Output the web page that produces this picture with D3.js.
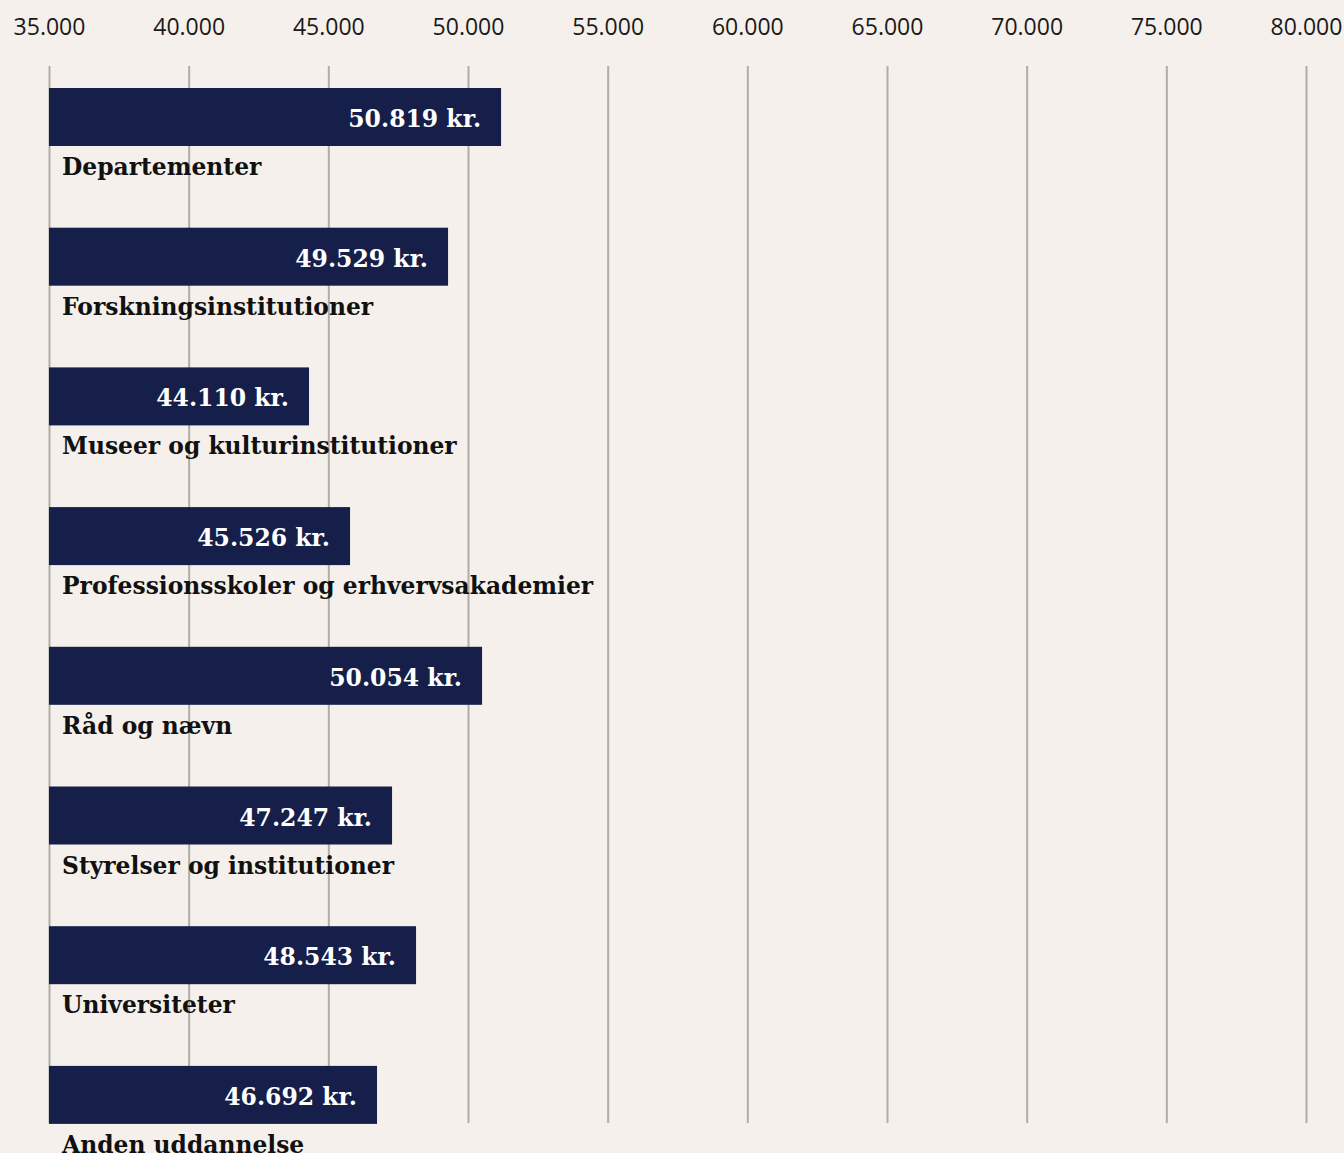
<!DOCTYPE html>
<html>
<head>
<meta charset="utf-8">
<script src="https://cdn.jsdelivr.net/npm/d3@7"></script>
<style>
  body { margin: 0; background: #f5f0eb; }
  svg { display: block; }
</style>
</head>
<body>
<div id="chart"></div>
<script>
// categories, top to bottom
const categories = [
  "Departementer",
  "Forskningsinstitutioner",
  "Museer og kulturinstitutioner",
  "Professionsskoler og erhvervsakademier",
  "Råd og nævn",
  "Styrelser og institutioner",
  "Universiteter",
  "Anden uddannelse"
];
// printed value labels (kr.)
const values = [50819, 49529, 44110, 45526, 50054, 47247, 48543, 46692];
// bar lengths as drawn in the picture (they do not follow the labels exactly)
const barValues = [51184, 49286, 44309, 45777, 50503, 47281, 48140, 46743];
const tickValues = [35000, 40000, 45000, 50000, 55000, 60000, 65000, 70000, 75000, 80000];

const width = 1344;
const height = 1153;
const gridTop = 66, gridBottom = 1123;

const da = d3.formatLocale({decimal: ",", thousands: ".", grouping: [3], currency: ["", " kr."]});
const fmt = da.format(",d");

const x = d3.scaleLinear().domain([35000, 80000]).range([49, 1306]);
const y = d3.scaleBand().domain(categories).range([88, 88 + 8 * 139.7]).paddingInner(0).paddingOuter(0);
const barH = 58;

const svg = d3.select("#chart").append("svg")
    .attr("width", width)
    .attr("height", height);

svg.append("rect").attr("width", width).attr("height", height).attr("fill", "#f5f0eb");

// axis on top, ticks drawn down as gridlines
const axis = svg.append("g")
    .attr("transform", "translate(0," + gridTop + ")")
    .call(d3.axisTop(x)
        .tickValues(tickValues)
        .tickFormat(fmt)
        .tickSizeInner(-(gridBottom - gridTop))
        .tickSizeOuter(0)
        .tickPadding(31));
axis.select(".domain").remove();
axis.selectAll(".tick line").attr("stroke", "#b0aca6").attr("stroke-width", 2);
axis.selectAll(".tick text")
    .attr("fill", "#1a1a1a")
    .style("font-family", "'Open Sans', sans-serif")
    .style("font-size", "23px");

const row = svg.selectAll("g.row")
    .data(categories)
    .enter()
    .append("g")
    .attr("class", "row")
    .attr("transform", d => "translate(0," + y(d) + ")");

row.append("rect")
    .attr("x", x(35000))
    .attr("y", 0)
    .attr("width", (d, i) => x(barValues[i]) - x(35000))
    .attr("height", barH)
    .attr("fill", "#161f4a");

row.append("text")
    .attr("x", (d, i) => x(barValues[i]) - 20)
    .attr("y", barH / 2 + 10)
    .attr("text-anchor", "end")
    .attr("fill", "#ffffff")
    .style("font-family", "'DejaVu Serif', serif")
    .style("font-weight", "bold")
    .style("font-size", "23.5px")
    .text((d, i) => fmt(values[i]) + " kr.");

row.append("text")
    .attr("x", 62)
    .attr("y", barH + 29)
    .attr("fill", "#111111")
    .style("font-family", "'DejaVu Serif', serif")
    .style("font-weight", "bold")
    .style("font-size", "23.4px")
    .text(d => d);
</script>
</body>
</html>
